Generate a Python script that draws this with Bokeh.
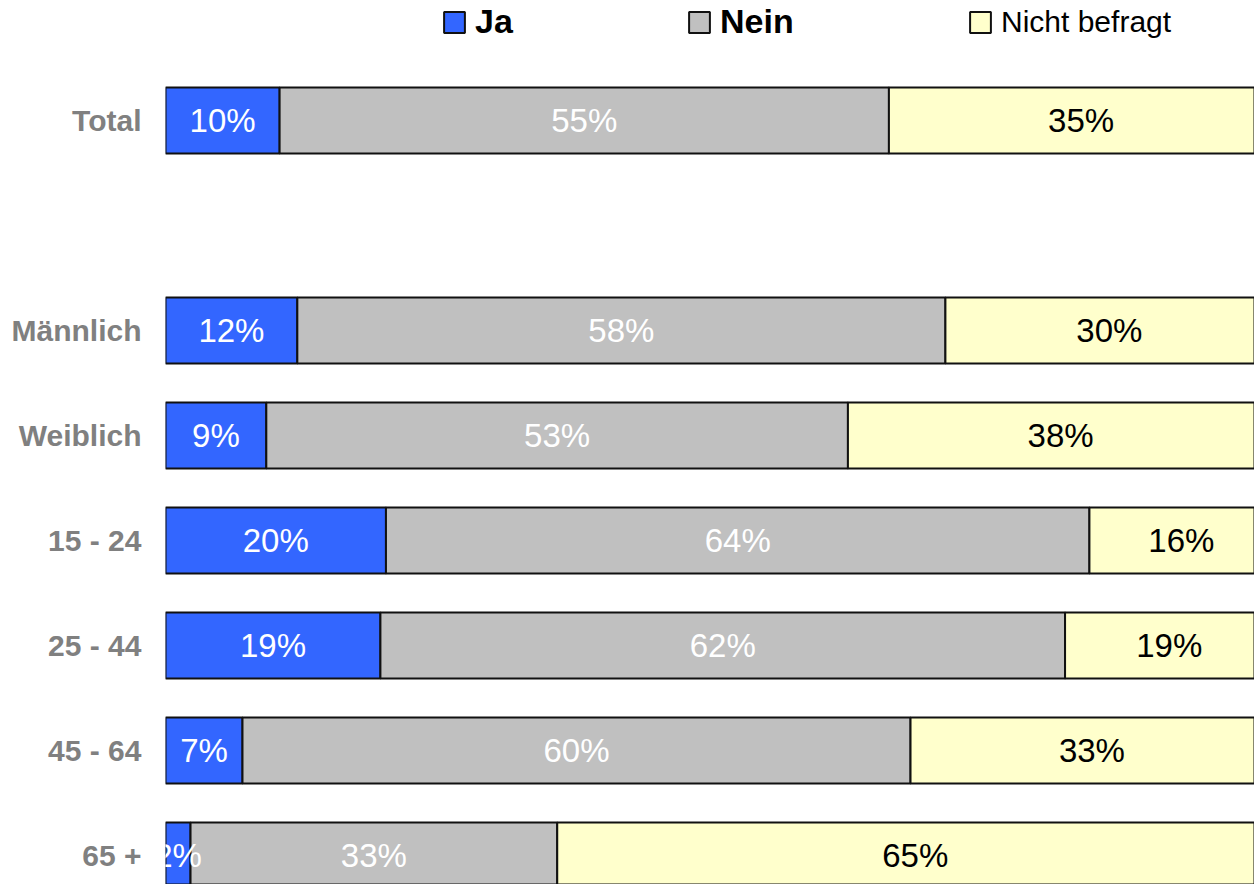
from bokeh.plotting import figure
from bokeh.models import ColumnDataSource, Range1d, FixedTicker, Legend, LegendItem
from bokeh.embed import file_html
from bokeh.resources import INLINE

# ---- data ----
categories = ["Total", "Männlich", "Weiblich", "15 - 24", "25 - 44", "45 - 64", "65 +"]
ja = [10.3, 11.9, 9.1, 19.9, 19.4, 6.95, 2.26]
nein = [55.0, 58.5, 52.5, 63.5, 61.8, 60.3, 33.1]
nicht = [round(100 - a - b, 2) for a, b in zip(ja, nein)]
ja_labels = ["10%", "12%", "9%", "20%", "19%", "7%", "2%"]
nein_labels = ["55%", "58%", "53%", "64%", "62%", "60%", "33%"]
nicht_labels = ["35%", "30%", "38%", "16%", "19%", "33%", "65%"]
series_names = ["Ja", "Nein", "Nicht befragt"]
colors = ["#3366FF", "#C0C0C0", "#FFFFCC"]

# Total stands alone, one blank row before the breakdown groups
positions = [0] + [i + 2 for i in range(len(categories) - 1)]

FONT = "Liberation Sans"

src = ColumnDataSource(dict(
    y=positions, cat=categories,
    Ja=ja, Nein=nein, Nicht=nicht,
))

p = figure(width=1254, height=884, output_backend="svg", toolbar_location=None,
           x_range=Range1d(0, 98.3), y_range=Range1d(7.276, -1.143),
           min_border_left=165, min_border_right=0, min_border_top=0, min_border_bottom=0)
p.outline_line_color = None
p.grid.visible = False
p.xaxis.visible = False

rs = p.hbar_stack(["Ja", "Nein", "Nicht"], y="y", height=0.63, source=src,
                  color=colors, line_color="black", line_width=2)
for r, c in zip(rs, colors):
    r.glyph.fill_color = c
    r.glyph.line_color = "#111111"

# segment labels
def mids(starts, widths):
    return [s + w / 2 for s, w in zip(starts, widths)]

zeros = [0] * len(ja)
ja_end = ja
nein_end = [a + b for a, b in zip(ja, nein)]
lab_src = ColumnDataSource(dict(
    x=mids(zeros, ja) + mids(ja_end, nein) + mids(nein_end, nicht),
    y=positions * 3,
    t=ja_labels + nein_labels + nicht_labels,
    c=["white"] * len(ja) + ["white"] * len(ja) + ["black"] * len(ja),
))
p.text(x="x", y="y", text="t", source=lab_src, text_color="c",
       text_align="center", text_baseline="middle",
       text_font_size="33px", text_font={"value": FONT})

# y axis
yax = p.yaxis[0]
yax.ticker = FixedTicker(ticks=positions)
yax.major_label_overrides = {pos: name for pos, name in zip(positions, categories)}
yax.axis_line_color = None
yax.major_tick_line_color = None
yax.minor_tick_line_color = None
yax.major_tick_out = 0
yax.major_tick_in = 0
yax.major_label_standoff = 24
yax.major_label_text_font = FONT
yax.major_label_text_font_style = "bold"
yax.major_label_text_font_size = "30px"
yax.major_label_text_color = "#808080"

# legends
leg_x = [276, 521, 802]
leg_y = [843, 843, 845]
styles = ["bold", "bold", "normal"]
sizes = ["34px", "34px", "30px"]
for r, name, x, y, st, sz in zip(rs, series_names, leg_x, leg_y, styles, sizes):
    lg = Legend(items=[LegendItem(label=name, renderers=[r])], location=(x, y),
                orientation="horizontal", glyph_width=26, glyph_height=26,
                label_standoff=8, padding=0, margin=0, border_line_color=None,
                background_fill_alpha=0, label_text_font=FONT,
                label_text_font_style=st, label_text_font_size=sz,
                label_text_color="black")
    p.add_layout(lg, "center")

open("out.html", "w").write(file_html(p, INLINE))
